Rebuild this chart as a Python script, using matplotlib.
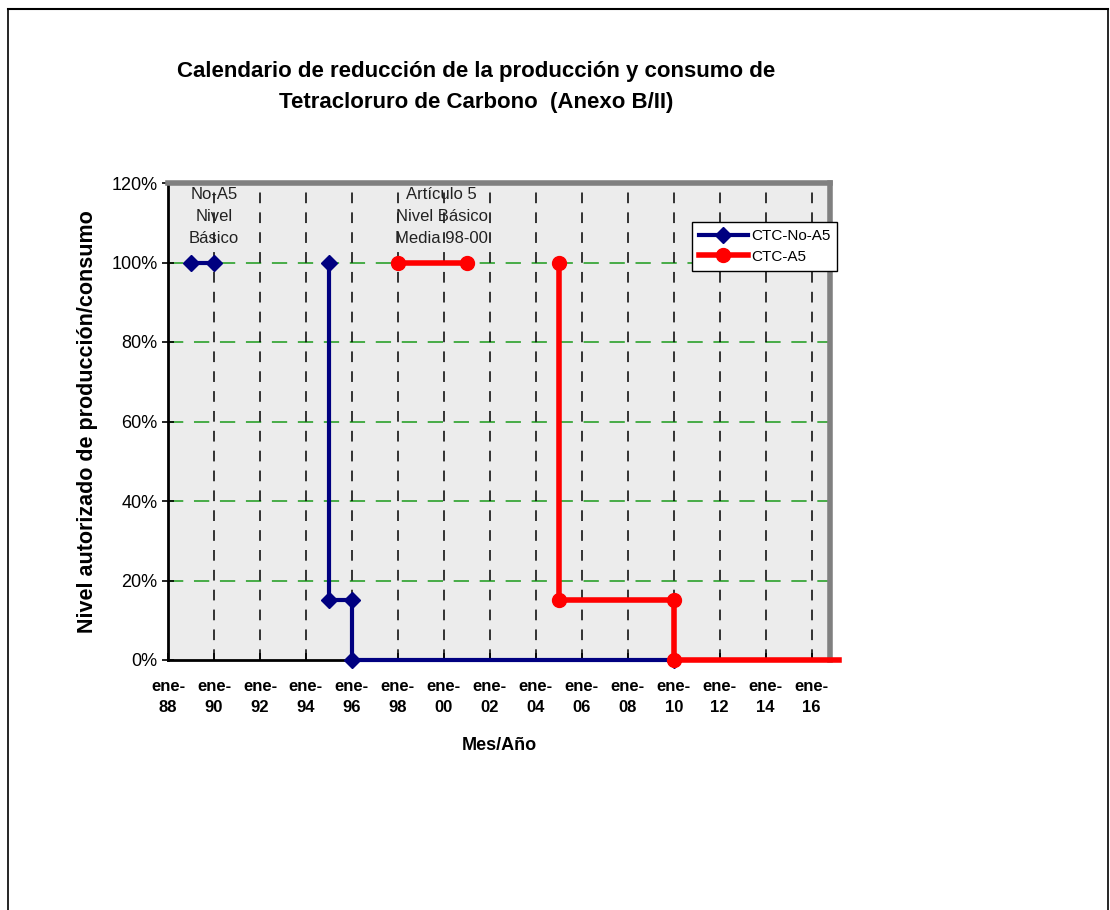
import numpy as np
import matplotlib.pyplot as plt
from matplotlib.lines import Line2D
from matplotlib.ticker import FuncFormatter

# -----------------------------
# DATA
# -----------------------------
years = list(range(1988, 2017, 2))
tick_labels = ["ene-\n%02d" % (y % 100) for y in years]

# CTC-No-A5 (NaN splits the two pieces)
no_a5_x = [1989, 1990, np.nan, 1995, 1995, 1996, 1996, 2010]
no_a5_y = [100, 100, np.nan, 100, 15, 15, 0, 0]

# CTC-A5
a5_x = [1998, 2001, np.nan, 2005, 2005, 2010, 2010, 2017.2]
a5_y = [100, 100, np.nan, 100, 15, 15, 0, 0]

y_ticks = [0, 20, 40, 60, 80, 100, 120]

plt.rcParams['font.family'] = ['Liberation Sans', 'DejaVu Sans']

# -----------------------------
# FIGURE
# -----------------------------
fig = plt.figure(figsize=(11.1, 9.1), dpi=100)
W, H = 1110, 910
ax = fig.add_axes([168 / W, 1 - 660 / H, (830 - 168) / W, (660 - 183) / H])
ax.set_facecolor('#ECECEC')

# outer frame
fig.add_artist(Line2D([8 / W, 1108 / W], [1 - 9 / H, 1 - 9 / H], color='black', lw=1.5))
fig.add_artist(Line2D([8 / W, 8 / W], [0, 1 - 9 / H], color='black', lw=1.2))
fig.add_artist(Line2D([1108 / W, 1108 / W], [0, 1 - 9 / H], color='black', lw=1.2))

# grid
for y in y_ticks[1:-1]:
    ax.axhline(y, color='#1A9A1A', lw=1.1, ls=(0, (10, 7)), zorder=1)
for x in years[1:]:
    ax.axvline(x, color='black', lw=1.1, ls=(0, (7, 6)), zorder=1)

# series
ax.plot(no_a5_x, no_a5_y, color='#000080', lw=3, marker='D', ms=8,
        label='CTC-No-A5', zorder=3, clip_on=False)
ax.plot(a5_x, a5_y, color='#FF0000', lw=4, marker='o', ms=10,
        markevery=[0, 1, 3, 4, 5, 6], label='CTC-A5', zorder=4, clip_on=False)

ax.set_xlim(1988, 2016.8)
ax.set_ylim(0, 120)
ax.set_xticks(years)
ax.set_xticklabels(tick_labels, fontsize=12, fontweight='bold', linespacing=1.45)
ax.set_yticks(y_ticks)
ax.yaxis.set_major_formatter(FuncFormatter(lambda v, p: "%d%%" % v))
ax.tick_params(axis='y', labelsize=13, direction='inout', length=8, width=1.2)
ax.tick_params(axis='x', direction='in', length=5, width=1.2, pad=14)

for s in ['top', 'right']:
    ax.spines[s].set_color('#808080')
    ax.spines[s].set_linewidth(4)
for s in ['left', 'bottom']:
    ax.spines[s].set_color('black')
    ax.spines[s].set_linewidth(2)

# annotations
ax.text(1990, 119, "No-A5\nNivel\nBásico", ha='center', va='top', fontsize=12,
        linespacing=1.6, color='#222222')
ax.text(1999.9, 119, "Artículo 5\nNivel Básico\nMedia 98-00", ha='center', va='top',
        fontsize=12, linespacing=1.6, color='#222222')

# titles
fig.text(476 / W, 1 - 87 / H, "Calendario de reducción de la producción y consumo de\n"
         "Tetracloruro de Carbono  (Anexo B/II)", ha='center', va='center',
         fontsize=16, fontweight='bold', linespacing=1.65)
ax.set_xlabel("Mes/Año", fontsize=13, fontweight='bold', labelpad=16)
fig.text(88 / W, 1 - 422 / H, "Nivel autorizado de producción/consumo", rotation=90,
         ha='center', va='center', fontsize=15.5, fontweight='bold')

leg = fig.legend(loc='upper left', bbox_to_anchor=(692 / W, 1 - 222 / H), fontsize=11,
                 frameon=True, fancybox=False, edgecolor='black', framealpha=1,
                 borderaxespad=0, handlelength=3.2, handletextpad=0.2, borderpad=0.45,
                 labelspacing=0.45)
leg.get_frame().set_linewidth(1)

plt.savefig("out.png", dpi=100)
